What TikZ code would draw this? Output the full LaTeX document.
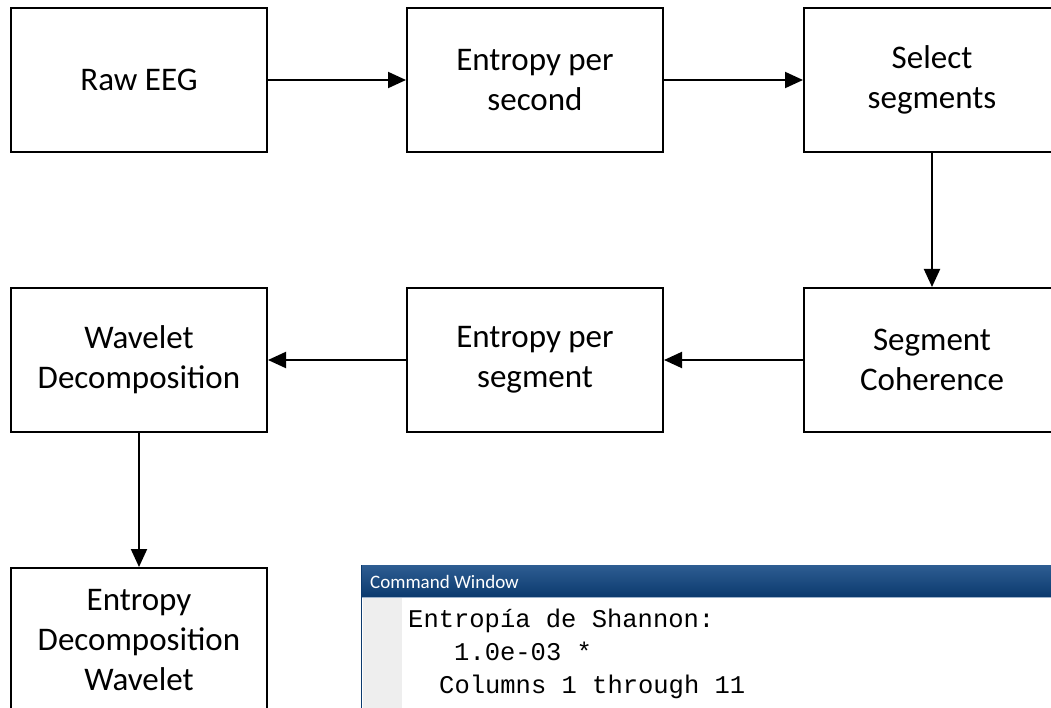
\documentclass[tikz,border=0pt]{standalone}
\usepackage{fontspec}
\setmainfont{Carlito}
\newfontfamily\cwcode{Liberation Mono}
\usetikzlibrary{arrows.meta}
\definecolor{barTop}{HTML}{2E5D92}
\definecolor{barBot}{HTML}{0B3A6E}
\definecolor{barLine}{HTML}{9DB2CB}
\definecolor{gutter}{HTML}{EEEEEE}

\begin{document}
\begin{tikzpicture}[x=1pt,y=-1pt,
  blk/.style={draw,line width=2pt,fill=white,minimum width=256pt,minimum height=144pt,
    align=center,font=\fontsize{33}{40}\selectfont},
  arr/.style={line width=2pt,-{Triangle[length=18pt,width=16pt]}},
  code/.style={anchor=base west,inner sep=0pt,font=\cwcode\fontsize{25.5}{30}\selectfont}]
\useasboundingbox (0,0) rectangle (1051,708);
\clip (0,0) rectangle (1051,708);

\node[blk] (raw) at (139,80) {Raw EEG};
\node[blk] (eps) at (535,80) {Entropy per\\second};
\node[blk] (sel) at (932,80) {Select\\segments};
\node[blk] (coh) at (932,360) {Segment\\Coherence};
\node[blk] (epg) at (535,360) {Entropy per\\segment};
\node[blk] (wav) at (139,360) {Wavelet\\Decomposition};
\node[blk] (edw) at (139,640) {Entropy\\Decomposition\\Wavelet};

\draw[arr] (raw) -- (eps);
\draw[arr] (eps) -- (sel);
\draw[arr] (sel) -- (coh);
\draw[arr] (coh) -- (epg);
\draw[arr] (epg) -- (wav);
\draw[arr] (wav) -- (edw);

% command window
\fill[white] (361,565) rectangle (1060,720);
\shade[top color=barTop,bottom color=barBot] (361,565) rectangle (1060,597);
\draw[barLine,line width=1.2pt] (361,597.5) -- (1060,597.5);
\fill[gutter] (363,598) rectangle (402,720);
\draw[barBot,line width=1.5pt] (361.5,565) -- (361.5,720);
\node[anchor=base west,inner sep=0pt,text=white,font=\fontsize{19}{21}\selectfont] (cwt) at (370,588) {Command Window};
\node[code] (l1) at (408,627) {Entropía de Shannon:};
\node[code] (l2) at (454,660) {1.0e-03 *};
\node[code] (l3) at (439,693) {Columns 1 through 11};
\end{tikzpicture}
\end{document}
